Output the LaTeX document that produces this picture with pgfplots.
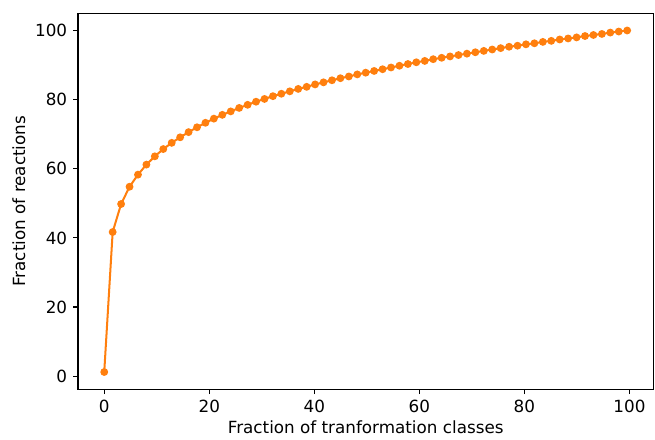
\documentclass[border=0pt]{standalone}
\usepackage{pgfplots}
\pgfplotsset{compat=1.18}
\usepackage{fontspec}
\setmainfont{DejaVu Sans}
\definecolor{mplorange}{HTML}{FF7F0E}

\pgfplotstableread{
x y
0 1.2
1.606 41.7
3.212 49.8
4.818 54.8
6.424 58.3
8.03 61.2
9.636 63.6
11.242 65.7
12.848 67.5
14.454 69.1
16.06 70.6
17.666 72.0
19.272 73.3
20.878 74.5
22.484 75.6
24.09 76.6
25.696 77.6
27.302 78.5
28.908 79.4
30.514 80.2
32.12 81.0
33.726 81.7
35.332 82.4
36.938 83.1
38.544 83.7
40.15 84.4
41.756 85.0
43.362 85.6
44.968 86.2
46.574 86.7
48.18 87.3
49.786 87.8
51.392 88.3
52.998 88.8
54.604 89.3
56.21 89.8
57.816 90.3
59.422 90.8
61.028 91.2
62.634 91.7
64.24 92.1
65.846 92.5
67.452 92.9
69.058 93.3
70.664 93.7
72.27 94.1
73.876 94.5
75.482 94.9
77.088 95.3
78.694 95.6
80.3 96.0
81.906 96.3
83.512 96.7
85.118 97.0
86.724 97.4
88.33 97.7
89.936 98.0
91.542 98.4
93.148 98.7
94.754 99.0
96.36 99.4
97.966 99.7
99.572 100.0
}\cumdata

\begin{document}
\begin{tikzpicture}
\begin{axis}[
  name=main,
  scale only axis,
  width=343pt,
  height=224pt,
  xmin=-4.98, xmax=104.55,
  ymin=-3.74, ymax=104.94,
  xtick={0,20,...,100},
  ytick={0,20,...,100},
  tick align=outside,
  tick pos=left,
  major tick length=3pt,
  axis line style={line width=0.7pt},
  every tick/.style={black,line width=0.7pt},
  /pgf/number format/assume math mode=true,
  ticklabel style={font=\fontsize{10}{12}\selectfont},
  label style={font=\fontsize{10}{12}\selectfont},
  xlabel={Fraction of tranformation classes},
  ylabel={Fraction of reactions},
  xlabel style={yshift=2pt},
  ylabel style={yshift=-1pt},
]
\addplot[mplorange, line width=1.2pt, mark=*, mark size=1.7pt,
  mark options={fill=mplorange, draw=mplorange}] table[x=x,y=y] {\cumdata};
\end{axis}
\path ([yshift=8pt]main.north west) -- ([xshift=1pt]main.north east);
\path ([xshift=-4pt]current bounding box.west) -- (current bounding box.west);
\end{tikzpicture}
\end{document}
